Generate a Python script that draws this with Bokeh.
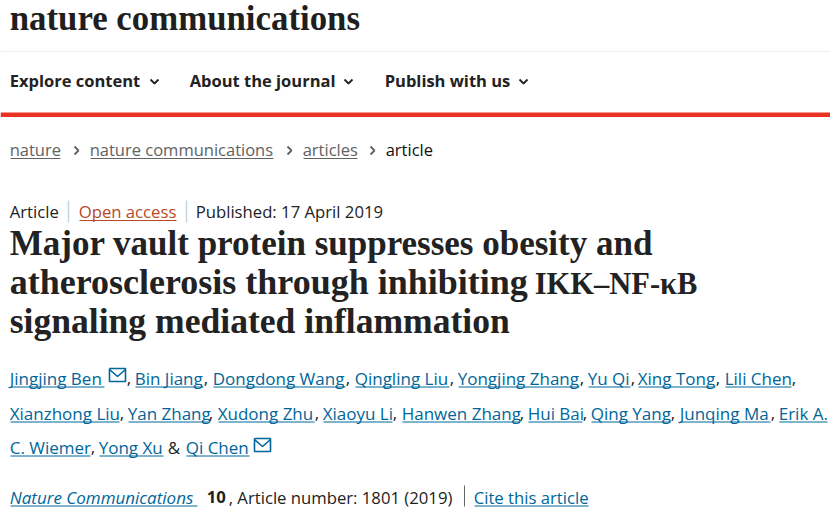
# -*- coding: utf-8 -*-
from bokeh.core.properties import value
from bokeh.embed import file_html
from bokeh.models import Range1d
from bokeh.plotting import figure
from bokeh.resources import INLINE

SERIF = "Liberation Serif"
SANS = "Open Sans"
INK = "#222222"
LINK = "#006699"
GREY = "#626262"
BODY = 16.5
META = 16.7
NAMES = 17

# page texts
logo = "nature communications"
nav_items = ["Explore content", "About the journal", "Publish with us"]
nav_x = [10, 190, 385]
nav_chevron_x = [154, 348, 523]

crumbs = ["nature", "nature communications", "articles"]
crumb_x0 = [10, 90, 303]
crumb_x1 = [60, 273, 357]
crumb_chevron_x = [76, 289, 372]

title_lines = ["Major vault protein suppresses obesity and",
               "atherosclerosis through inhibiting",
               "signaling mediated inflammation"]
title_y = [256, 295, 334]
title_size = [35, 36, 35.6]
title_end = "IKK\u2013NF-\u03baB"

# authors, one list per line of the page
names_1 = ["Jingjing Ben", "Bin Jiang", "Dongdong Wang", "Qingling Liu", "Yongjing Zhang", "Yu Qi", "Xing Tong", "Lili Chen"]
x0_1 = [10, 135, 213, 355, 458, 588, 638, 725]
x1_1 = [104, 203, 345, 449, 579, 630, 715, 791]
names_2 = ["Xianzhong Liu", "Yan Zhang", "Xudong Zhu", "Xiaoyu Li", "Hanwen Zhang", "Hui Bai", "Qing Yang", "Junqing Ma", "Erik A."]
x0_2 = [10, 128, 218, 323, 402, 528, 591, 680, 779]
x1_2 = [119, 208, 314, 392, 519, 582, 670, 770, 827]
names_3 = ["C. Wiemer", "Yong Xu", "Qi Chen"]
x0_3 = [10, 99, 186]
x1_3 = [90, 163, 249]
comma_x = [127, 204, 346, 450, 580, 631, 716, 792, 120, 209, 315, 393, 520, 583, 671, 771, 91]
comma_y = [385] * 8 + [420] * 8 + [454]

p = figure(width=830, height=514, output_backend="svg", toolbar_location=None,
           x_range=Range1d(0, 830), y_range=Range1d(514, 0), min_border=0)
p.axis.visible = False
p.grid.visible = False
p.outline_line_color = None


def put(x, y, text, size, color=INK, font=SANS, style="normal"):
    # the alphabetic baseline lands about 0.37 em too low in the svg output
    p.text(x=[x - 0.8], y=[y - 0.37 * size], text=[text], text_font=value(font), text_font_size=f"{size}px",
           text_color=color, text_font_style=style, text_baseline="alphabetic")


def rule(x0, y0, x1, y1, color, width=1.0):
    p.line([x0, x1], [y0, y1], line_color=color, line_width=width)


def chevron(x, y, color, half=4, width=1.8):
    p.line([x - half, x, x + half], [y - 2, y + 2, y - 2], line_color=color, line_width=width)


def crumb_mark(x, y):
    p.line([x - 2, x + 2, x - 2], [y - 4, y, y + 4], line_color=GREY, line_width=1.8)


def mail(x, y):
    p.line([x, x + 16, x + 16, x, x], [y, y, y + 13, y + 13, y], line_color=LINK, line_width=1.6)
    p.line([x, x + 8, x + 16], [y + 1, y + 8, y + 1], line_color=LINK, line_width=1.6)


# header
put(10, 31, logo, 34.8, "#1f1f1f", SERIF, "bold")
rule(0, 51, 830, 51, "#eeeeee")
for label, x, cx in zip(nav_items, nav_x, nav_chevron_x):
    put(x, 86.5, label, BODY, INK, SANS, "bold")
    chevron(cx, 81, INK)
p.quad(left=[0], right=[830], top=[112], bottom=[116.5], fill_color="#e83323", line_color=None)

# breadcrumb
for label, x0, x1, cx in zip(crumbs, crumb_x0, crumb_x1, crumb_chevron_x):
    put(x0, 155, label, BODY, GREY)
    rule(x0, 158, x1, 158, GREY)
    crumb_mark(cx, 150)
put(386, 155, "article", BODY, "#111111")

# article meta
put(10, 217, "Article", META)
rule(68, 200, 68, 222, "#c5d5e0", 1.5)
put(79, 217, "Open access", META, "#b8492a")
rule(79, 220, 176, 220, "#b8492a")
rule(186, 200, 186, 222, "#c5d5e0", 1.5)
put(196, 217, "Published: 17 April 2019", META)

# title
for line, y, size in zip(title_lines, title_y, title_size):
    put(10, y, line, size, INK, SERIF, "bold")
put(535, 295, title_end, 30.5, INK, SERIF, "bold")

# authors
for names, x0s, x1s, y in [(names_1, x0_1, x1_1, 385), (names_2, x0_2, x1_2, 420), (names_3, x0_3, x1_3, 454)]:
    for name, x0, x1 in zip(names, x0s, x1s):
        put(x0, y - 1, name, NAMES, LINK)
        rule(x0, y + 1.5, x1, y + 1.5, LINK)
for x, y in zip(comma_x, comma_y):
    put(x, y - 1, ",", NAMES)
put(168, 453, "&", NAMES)
mail(109, 368)
mail(254, 438)

# citation line
put(10, 503, "Nature Communications", NAMES, LINK, SANS, "italic")
rule(10, 505.5, 197, 505.5, LINK)
put(207, 503, "10", META, INK, SANS, "bold")
put(229, 503, ", Article number: 1801 (2019)", META)
rule(464, 485, 464, 506, "#666666")
put(474, 503, "Cite this article", META, LINK)
rule(474, 505.5, 588, 505.5, LINK)

open("out.html", "w").write(file_html(p, INLINE))
